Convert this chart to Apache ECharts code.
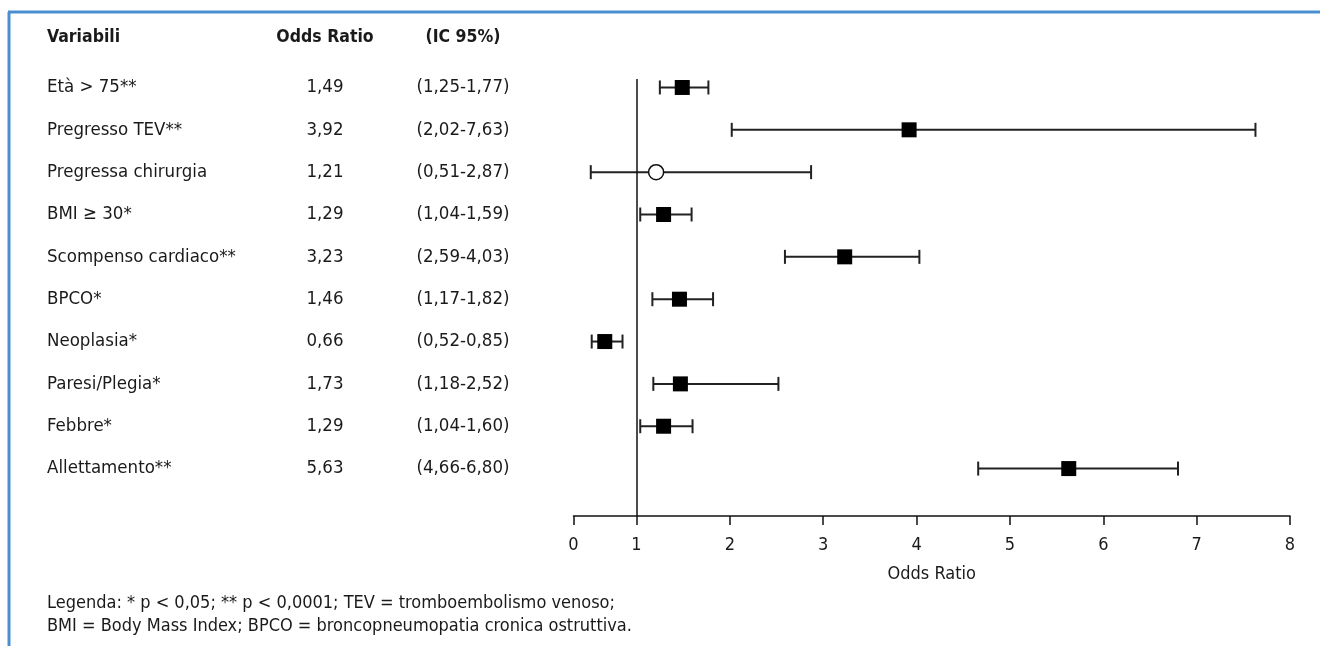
<!DOCTYPE html>
<html>
<head>
<meta charset="utf-8">
<script src="https://cdn.jsdelivr.net/npm/echarts@6/dist/echarts.min.js"></script>
<style>
  html, body { margin: 0; padding: 0; background: #fff; }
  #chart { width: 1320px; height: 646px; }
</style>
</head>
<body>
<div id="chart"></div>
<script>
// ---- data ----
var variables = ['Età > 75**', 'Pregresso TEV**', 'Pregressa chirurgia', 'BMI ≥ 30*', 'Scompenso cardiaco**', 'BPCO*', 'Neoplasia*', 'Paresi/Plegia*', 'Febbre*', 'Allettamento**'];
var oddsRatioText = ['1,49', '3,92', '1,21', '1,29', '3,23', '1,46', '0,66', '1,73', '1,29', '5,63'];
var ciText = ['(1,25-1,77)', '(2,02-7,63)', '(0,51-2,87)', '(1,04-1,59)', '(2,59-4,03)', '(1,17-1,82)', '(0,52-0,85)', '(1,18-2,52)', '(1,04-1,60)', '(4,66-6,80)'];
// marker positions as drawn in the figure
var markerOR = [1.49, 3.92, 1.21, 1.29, 3.23, 1.46, 0.66, 1.47, 1.29, 5.63];
var ciLow = [1.25, 2.02, 0.51, 1.04, 2.59, 1.17, 0.52, 1.18, 1.04, 4.66];
var ciHigh = [1.77, 7.63, 2.87, 1.59, 4.03, 1.82, 0.85, 2.52, 1.60, 6.80];
var significant = [true, true, false, true, true, true, true, true, true, true];
var xTickValues = [0.325, 1, 2, 3, 4, 5, 6, 7, 8];
var xTickLabels = ['0', '1', '2', '3', '4', '5', '6', '7', '8'];
var headers = ['Variabili', 'Odds Ratio', '(IC 95%)'];
var footnote = ['Legenda: * p < 0,05; ** p < 0,0001; TEV = tromboembolismo venoso;',
                'BMI = Body Mass Index; BPCO = broncopneumopatia cronica ostruttiva.'];

var FONT = '"DejaVu Sans Condensed"';
var FS = 18;
var FS_ROW = 18.5;
var TXT = '#1a1a1a';
var rowIdx = variables.map(function (_, i) { return i; });

var chart = echarts.init(document.getElementById('chart'), null, { renderer: 'canvas' });

var option = {
  backgroundColor: '#fff',
  animation: false,
  textStyle: { fontFamily: FONT },
  grid: { left: 573.5, right: 30, top: 79, bottom: 130, containLabel: false },
  xAxis: {
    type: 'value',
    min: xTickValues[0],
    max: 8,
    splitLine: { show: false },
    axisLine: { show: true, onZero: false, lineStyle: { color: '#111', width: 1.5 } },
    axisTick: { show: true, customValues: xTickValues, length: 9, lineStyle: { color: '#111', width: 1.5 } },
    axisLabel: {
      customValues: xTickValues,
      margin: 20,
      fontSize: FS,
      fontFamily: FONT,
      color: TXT,
      formatter: function (v) {
        for (var k = 0; k < xTickValues.length; k++) {
          if (Math.abs(xTickValues[k] - v) < 1e-6) return xTickLabels[k];
        }
        return '';
      }
    },
    name: 'Odds Ratio',
    nameLocation: 'middle',
    nameGap: 49,
    nameTextStyle: { fontSize: FS, fontFamily: FONT, color: TXT }
  },
  yAxis: {
    type: 'value',
    inverse: true,
    min: -0.2,
    max: 10.12,
    splitLine: { show: false },
    axisLine: { show: false, onZero: false },
    axisTick: { show: false },
    axisLabel: {
      customValues: rowIdx,
      align: 'left',
      margin: 526.5,
      formatter: function (v) {
        var i = Math.round(v);
        return '{a|' + variables[i] + '}{b|' + oddsRatioText[i] + '}{c|' + ciText[i] + '}';
      },
      rich: {
        a: { width: 230, align: 'left', fontSize: FS_ROW, fontFamily: FONT, color: TXT },
        b: { width: 96, align: 'center', fontSize: FS_ROW, fontFamily: FONT, color: TXT },
        c: { width: 180, align: 'center', fontSize: FS_ROW, fontFamily: FONT, color: TXT }
      }
    }
  },
  graphic: [
    { type: 'line', shape: { x1: 8, y1: 12, x2: 1320, y2: 12 }, style: { stroke: '#4a90d0', lineWidth: 3 } },
    { type: 'line', shape: { x1: 9, y1: 12, x2: 9, y2: 646 }, style: { stroke: '#4a90d0', lineWidth: 3 } },
    { type: 'text', x: 47, y: 37, style: { text: headers[0], font: 'bold 17.5px ' + FONT, fill: TXT, textVerticalAlign: 'middle' } },
    { type: 'text', x: 325, y: 37, style: { text: headers[1], font: 'bold 17.5px ' + FONT, fill: TXT, textAlign: 'center', textVerticalAlign: 'middle' } },
    { type: 'text', x: 463, y: 37, style: { text: headers[2], font: 'bold 17.5px ' + FONT, fill: TXT, textAlign: 'center', textVerticalAlign: 'middle' } },
    { type: 'text', x: 47, y: 603, style: { text: footnote[0], font: FS + 'px ' + FONT, fill: TXT, textVerticalAlign: 'middle' } },
    { type: 'text', x: 47, y: 626, style: { text: footnote[1], font: FS + 'px ' + FONT, fill: TXT, textVerticalAlign: 'middle' } }
  ],
  series: [
    {
      type: 'custom',
      name: 'CI',
      silent: true,
      renderItem: function (params, api) {
        var lo = api.coord([api.value(0), api.value(2)]);
        var hi = api.coord([api.value(1), api.value(2)]);
        var h = 7;
        var st = { stroke: '#222', lineWidth: 2 };
        return {
          type: 'group',
          children: [
            { type: 'line', shape: { x1: lo[0], y1: lo[1], x2: hi[0], y2: hi[1] }, style: st },
            { type: 'line', shape: { x1: lo[0], y1: lo[1] - h, x2: lo[0], y2: lo[1] + h }, style: st },
            { type: 'line', shape: { x1: hi[0], y1: hi[1] - h, x2: hi[0], y2: hi[1] + h }, style: st }
          ]
        };
      },
      data: rowIdx.map(function (i) { return [ciLow[i], ciHigh[i], i]; }),
      markLine: {
        silent: true,
        symbol: 'none',
        label: { show: false },
        lineStyle: { color: '#111', width: 1.5, type: 'solid' },
        data: [{ xAxis: 1 }]
      },
      z: 2
    },
    {
      type: 'scatter',
      name: 'OR',
      silent: true,
      data: rowIdx.map(function (i) {
        return significant[i]
          ? { value: [markerOR[i], i], symbol: 'rect', symbolSize: 15, itemStyle: { color: '#000', borderWidth: 0, opacity: 1 } }
          : { value: [markerOR[i], i], symbol: 'circle', symbolSize: 15, itemStyle: { color: '#fff', borderColor: '#111', borderWidth: 1.5, opacity: 1 } };
      }),
      z: 3
    }
  ]
};
chart.setOption(option);
</script>
</body>
</html>
